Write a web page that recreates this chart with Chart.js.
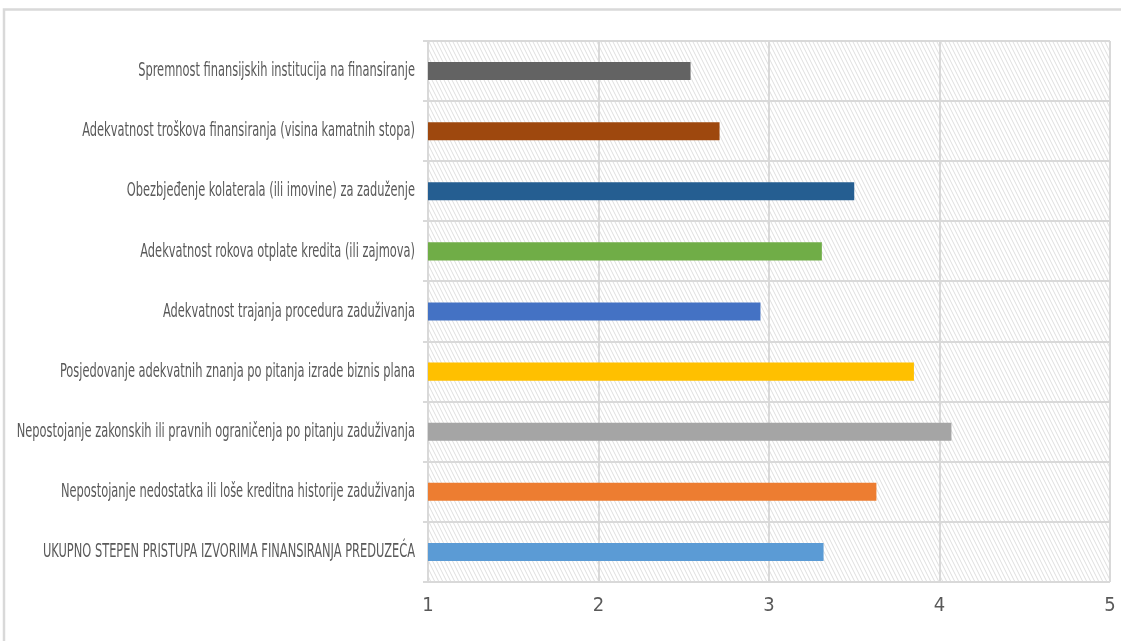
<!DOCTYPE html>
<html>
<head>
<meta charset="utf-8">
<script src="https://cdn.jsdelivr.net/npm/chart.js@4"></script>
<style>
  html, body { margin: 0; padding: 0; background: #fff; }
  #wrap { position: relative; width: 1121px; height: 641px; }
</style>
</head>
<body>
<div id="wrap"><canvas id="chart" width="1121" height="641"></canvas></div>
<script>
// --- Data ---
const categories = [
  'Spremnost finansijskih institucija na finansiranje',
  'Adekvatnost troškova finansiranja (visina kamatnih stopa)',
  'Obezbjeđenje kolaterala (ili imovine) za zaduženje',
  'Adekvatnost rokova otplate kredita (ili zajmova)',
  'Adekvatnost trajanja procedura zaduživanja',
  'Posjedovanje adekvatnih znanja po pitanja izrade biznis plana',
  'Nepostojanje zakonskih ili pravnih ograničenja po pitanju zaduživanja',
  'Nepostojanje nedostatka ili loše kreditna historije zaduživanja',
  'UKUPNO STEPEN PRISTUPA IZVORIMA FINANSIRANJA PREDUZEĆA'
];
const values = [2.54, 2.71, 3.50, 3.31, 2.95, 3.85, 4.07, 3.63, 3.32];
const barColors = ['#636363', '#9E480E', '#255E91', '#70AD47', '#4472C4', '#FFC000', '#A5A5A5', '#ED7D31', '#5B9BD5'];
const xTicks = [1, 2, 3, 4, 5];

const FONT = "'Liberation Sans Narrow', 'DejaVu Sans Condensed', 'Liberation Sans', sans-serif";
const TEXT_COLOR = '#595959';
const GRID_COLOR = '#d9d9d9';
const SQUEEZE = 0.635; // horizontal squeeze of the label text

// diagonal hatch for the plot background
function makeHatch() {
  const c = document.createElement('canvas');
  c.width = 4; c.height = 8;
  const g = c.getContext('2d');
  g.fillStyle = '#ffffff';
  g.fillRect(0, 0, 4, 8);
  g.strokeStyle = 'rgba(200,200,200,0.6)';
  g.lineWidth = 1;
  g.beginPath();
  g.moveTo(-4, -8); g.lineTo(8, 16);
  g.moveTo(-8, -8); g.lineTo(4, 16);
  g.moveTo(0, -8); g.lineTo(12, 16);
  g.stroke();
  return g.createPattern(c, 'repeat');
}

const hatchPlugin = {
  id: 'hatch',
  beforeDraw(chart) {
    const { ctx, chartArea: a } = chart;
    ctx.save();
    // outer frame
    ctx.strokeStyle = GRID_COLOR;
    ctx.lineWidth = 2.5;
    ctx.strokeRect(4, 9.5, 1300, 800);
    ctx.fillStyle = makeHatch();
    ctx.fillRect(a.left, a.top, a.right - a.left, a.bottom - a.top);
    ctx.restore();
  }
};

// category labels, drawn narrow like the original
const labelPlugin = {
  id: 'narrowLabels',
  afterDraw(chart) {
    const { ctx } = chart;
    const y = chart.scales.y;
    ctx.save();
    ctx.font = '20px ' + FONT;
    ctx.fillStyle = TEXT_COLOR;
    ctx.textAlign = 'right';
    ctx.textBaseline = 'middle';
    categories.forEach((lbl, i) => {
      const py = y.getPixelForValue(i);
      ctx.save();
      ctx.translate(415, py);
      ctx.scale(SQUEEZE, 1);
      ctx.fillText(lbl, 0, 0);
      ctx.restore();
    });
    ctx.restore();
  }
};

new Chart(document.getElementById('chart'), {
  type: 'bar',
  data: {
    labels: categories,
    datasets: [{
      data: values,
      backgroundColor: barColors,
      borderWidth: 0,
      barPercentage: 0.6,
      categoryPercentage: 0.5
    }]
  },
  plugins: [hatchPlugin, labelPlugin],
  options: {
    indexAxis: 'y',
    responsive: false,
    animation: false,
    layout: { padding: { top: 41, right: 11, left: 0, bottom: 0 } },
    plugins: { legend: { display: false }, tooltip: { enabled: false } },
    scales: {
      x: {
        min: 1,
        max: 5,
        afterBuildTicks(scale) { scale.ticks = xTicks.map(v => ({ value: v })); },
        afterFit(scale) {
          scale.height = 59;
          scale.paddingLeft = 0;
          scale.paddingRight = 0;
        },
        grid: { color: GRID_COLOR, lineWidth: 2, drawTicks: false },
        border: { display: false },
        ticks: {
          color: TEXT_COLOR,
          padding: 12,
          font: { family: FONT, size: 20 }
        }
      },
      y: {
        afterFit(scale) { scale.width = 428; },
        grid: { color: GRID_COLOR, lineWidth: 2, offset: true, tickLength: 5 },
        border: { display: false },
        ticks: { display: false }
      }
    }
  }
});
</script>
</body>
</html>
